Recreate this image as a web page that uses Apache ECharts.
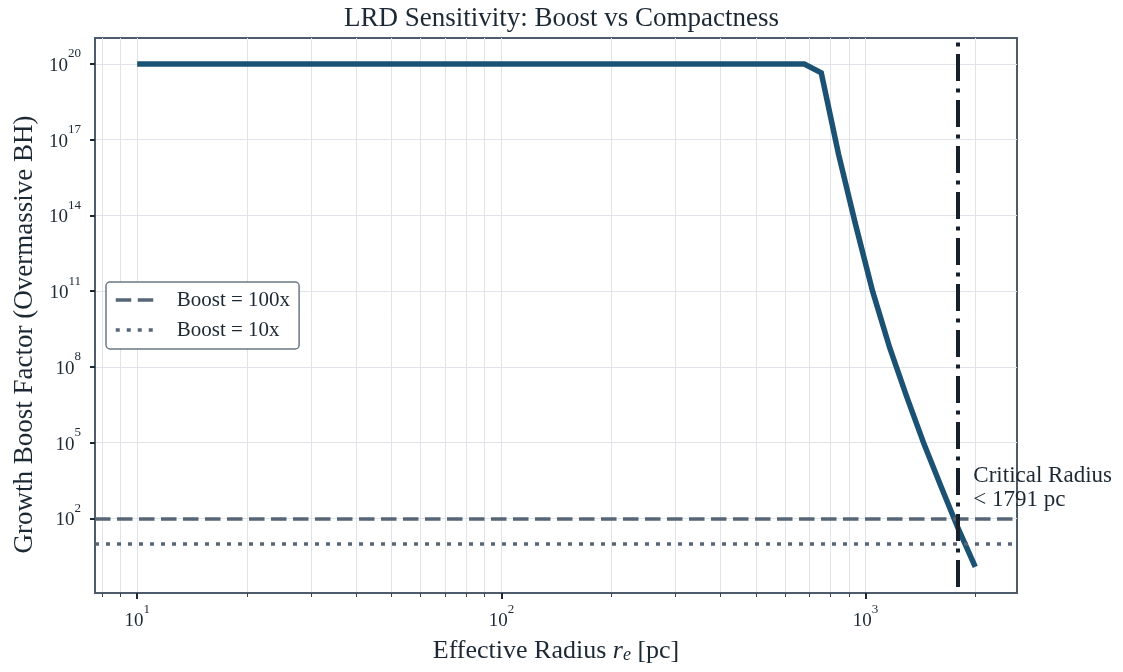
<!DOCTYPE html>
<html><head><meta charset="utf-8">
<script src="https://cdn.jsdelivr.net/npm/echarts@6/dist/echarts.min.js"></script>
<style>html,body{margin:0;padding:0;background:#fff}#c{width:1123px;height:672px}</style>
</head><body><div id="c"></div>
<script>
// ---- data ----
const radius = [10, 678.6, 755.5, 842, 938, 1045, 1165, 1298, 1446, 1612, 1795, 2000];
const boost  = [1e20, 1e20, 4.47e19, 2.82e16, 4.47e13, 1.0e11, 5.6e8, 6.3e6, 8.9e4, 1.78e3, 39.8, 1.2];
const thresholdValues = [100, 10];
const thresholdNames = ['Boost = 100x', 'Boost = 10x'];
const criticalRadius = 1791;
const criticalText = ['Critical Radius', '< 1791 pc'];
const annotPoint = [1970, 1550];
const xRange = [7.66, 2604];
const yRange = [0.11, 1.07e21];
const xMajorTicks = [10, 100, 1000];
const xAllTicks = [8, 9, 10, 20, 30, 40, 50, 60, 70, 80, 90, 100, 200, 300, 400, 500, 600, 700, 800, 900, 1000, 2000];
const yMajorTicks = [1e2, 1e5, 1e8, 1e11, 1e14, 1e17, 1e20];

const FONT = "'Liberation Serif', 'Times New Roman', serif";
const TXT = '#1c2833';
const FRAME = '#4d5b6b';
const GRIDC = '#e0e3e9';
const THR = '#576676';
const DASHED = [15.5, 6.5];
const DOTTED = [4, 7];

function powLabel(v) {
  return '{b|10}{s|' + Math.round(Math.log10(v)) + '}';
}
const richPow = {
  b: {fontSize: 19, fontFamily: FONT, color: TXT, padding: [4, 0, 0, 0]},
  s: {fontSize: 13, fontFamily: FONT, color: TXT, padding: [0, 0, 20, 0]}
};

const chart = echarts.init(document.getElementById('c'), null, {renderer: 'canvas'});
const option = {
  animation: false,
  backgroundColor: '#ffffff',
  title: {
    text: 'LRD Sensitivity: Boost vs Compactness',
    left: 'center', top: 5, padding: 0,
    textStyle: {fontFamily: FONT, fontSize: 27, fontWeight: 'normal', color: TXT}
  },
  grid: {left: 95, top: 38, width: 922, height: 555, show: true, borderColor: FRAME, borderWidth: 2, backgroundColor: 'transparent'},
  legend: {
    data: [
      {name: thresholdNames[0], itemStyle: {opacity: 0}, lineStyle: {color: THR, width: 3.5, type: DASHED}},
      {name: thresholdNames[1], itemStyle: {opacity: 0}, lineStyle: {color: THR, width: 3.5, type: DOTTED}}
    ],
    orient: 'vertical', left: 106, top: 282,
    itemWidth: 38, itemHeight: 14, itemGap: 8,
    padding: [7, 9, 8, 8],
    borderColor: '#6b7886', borderWidth: 1.5, borderRadius: 4, backgroundColor: '#ffffff',
    textStyle: {fontFamily: FONT, fontSize: 21, color: TXT, padding: [0, 0, 0, 18], lineHeight: 22},
    selectedMode: false
  },
  xAxis: [
    {
      type: 'log', logBase: 10, min: xRange[0], max: xRange[1], position: 'bottom',
      axisLine: {show: true, lineStyle: {color: FRAME, width: 2}},
      axisTick: {show: true, customValues: xAllTicks, length: 4, lineStyle: {color: '#3a4656', width: 1}},
      axisLabel: {show: false},
      splitLine: {show: true, lineStyle: {color: GRIDC, width: 1}},
      minorTick: {show: false}, minorSplitLine: {show: false},
      name: '{n|Effective Radius }{i|r}{sub|e}{n| [pc]}',
      nameLocation: 'middle', nameGap: 45,
      nameTextStyle: {
        rich: {
          n: {fontFamily: FONT, fontSize: 26, color: TXT},
          i: {fontFamily: FONT, fontSize: 26, fontStyle: 'italic', color: TXT},
          sub: {fontFamily: FONT, fontSize: 18, fontStyle: 'italic', color: TXT, padding: [8, 0, 0, 0]}
        }
      }
    },
    {
      type: 'log', logBase: 10, min: xRange[0], max: xRange[1], position: 'bottom', gridIndex: 0,
      axisLine: {show: false},
      axisTick: {show: true, customValues: xMajorTicks, length: 6, lineStyle: {color: TXT, width: 2}},
      axisLabel: {show: true, customValues: xMajorTicks, formatter: powLabel, rich: richPow, margin: 10},
      splitLine: {show: false}
    }
  ],
  yAxis: {
    type: 'log', logBase: 10, min: yRange[0], max: yRange[1],
    axisLine: {show: true, lineStyle: {color: FRAME, width: 2}},
    axisTick: {show: true, customValues: yMajorTicks, length: 5, lineStyle: {color: TXT, width: 2}},
    axisLabel: {show: true, customValues: yMajorTicks, formatter: powLabel, rich: richPow, margin: 14},
    splitLine: {show: true, lineStyle: {color: GRIDC, width: 1}},
    name: 'Growth Boost Factor (Overmassive BH)',
    nameLocation: 'middle', nameGap: 55,
    nameTextStyle: {fontFamily: FONT, fontSize: 27, color: TXT, padding: [0, 38, 0, 0]}
  },
  series: [
    {
      name: 'Boost curve', type: 'line', xAxisIndex: 0, yAxisIndex: 0,
      data: radius.map((r, i) => [r, boost[i]]),
      showSymbol: false, symbol: 'none', z: 3,
      lineStyle: {color: '#1b5274', width: 5.5, cap: 'butt', join: 'miter'},
      itemStyle: {color: '#1b5274'}, silent: true
    },
    {
      name: thresholdNames[0], type: 'line', data: [], symbol: 'none', z: 4,
      itemStyle: {color: THR},
      lineStyle: {color: THR, width: 3.5, type: DASHED},
      markLine: {
        silent: true, symbol: ['none', 'none'], label: {show: false},
        lineStyle: {color: THR, width: 3.5, type: DASHED},
        data: [{yAxis: thresholdValues[0]}]
      }
    },
    {
      name: thresholdNames[1], type: 'line', data: [], symbol: 'none', z: 4,
      itemStyle: {color: THR},
      lineStyle: {color: THR, width: 3.5, type: DOTTED},
      markLine: {
        silent: true, symbol: ['none', 'none'], label: {show: false},
        lineStyle: {color: THR, width: 3.5, type: DOTTED},
        data: [{yAxis: thresholdValues[1]}]
      }
    },
    {
      name: 'Critical', type: 'line', data: [], symbol: 'none', z: 5,
      markLine: {
        silent: true, symbol: ['none', 'none'], label: {show: false},
        lineStyle: {color: '#17202a', width: 4, type: [27, 7.5, 4, 7.5], dashOffset: 40},
        data: [{xAxis: criticalRadius}]
      },
      markPoint: {
        silent: true, symbol: 'circle', symbolSize: 1,
        itemStyle: {color: 'rgba(0,0,0,0)'},
        label: {
          show: true, position: 'right', distance: 0,
          formatter: criticalText.join('\n'),
          fontFamily: FONT, fontSize: 23, lineHeight: 24, color: TXT, align: 'left'
        },
        data: [{coord: annotPoint}]
      }
    }
  ]
};
chart.setOption(option);
</script>
</body></html>
